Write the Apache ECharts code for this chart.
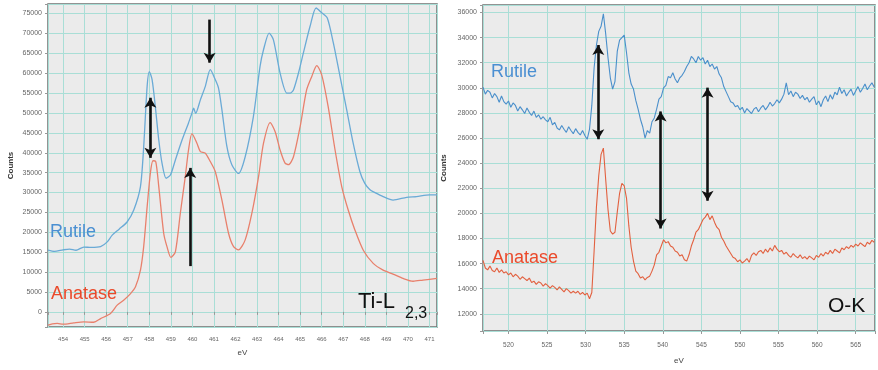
<!DOCTYPE html>
<html>
<head>
<meta charset="utf-8">
<script src="https://cdn.jsdelivr.net/npm/echarts@6/dist/echarts.min.js"></script>
<style>
  html, body { margin: 0; padding: 0; background: #ffffff; }
  #chart { width: 878px; height: 370px; }
</style>
</head>
<body>
<div id="chart"></div>
<script>
// ---- Ti-L2,3 edge (energy in eV, intensity in counts) ----
const tiRutileEnergy = [453.3, 453.6, 454.0, 454.3, 454.6, 454.96, 455.3, 455.74, 456.05, 456.28,
  456.6, 456.97, 457.28, 457.59, 457.74, 457.9, 458.0, 458.13, 458.28, 458.44,
  458.59, 458.78, 458.98, 459.21, 459.52, 459.82, 459.98, 460.06, 460.15, 460.37,
  460.6, 460.83, 461.06, 461.21, 461.37, 461.6, 461.83, 462.14, 462.45, 462.83,
  463.14, 463.3, 463.56, 463.76, 464.07, 464.38, 464.54, 464.69, 464.92, 465.15,
  465.46, 465.74, 466.0, 466.26, 466.54, 466.85, 467.16, 467.46, 467.77, 468.0,
  468.24, 468.47, 468.85, 469.31, 469.94, 470.4, 471.01, 471.35];
const tiRutile = [15500, 15200, 15600, 15800, 15500, 16300, 16200, 16400, 17600, 19300,
  20800, 22600, 25600, 31500, 41500, 56700, 60400, 58400, 51600, 43200,
  37400, 33600, 34400, 38200, 43200, 47500, 50000, 51200, 49900, 53300,
  56700, 60900, 58400, 56300, 50800, 41600, 37000, 34800, 39000, 49100,
  61700, 65900, 70100, 68400, 60000, 55000, 55000, 55800, 60000, 65100,
  71800, 76400, 75200, 73900, 67600, 59200, 50800, 42400, 35300, 32300,
  30700, 30000, 29000, 28100, 28800, 29000, 29400, 29400];

const tiAnataseEnergy = [453.3, 453.5, 453.73, 454.0, 454.5, 454.96, 455.42, 455.74, 456.2, 456.51,
  456.81, 457.13, 457.36, 457.59, 457.74, 457.9, 458.05, 458.17, 458.3, 458.44,
  458.67, 458.82, 459.0, 459.21, 459.44, 459.67, 459.82, 459.98, 460.21, 460.37,
  460.6, 460.83, 461.06, 461.37, 461.68, 461.91, 462.14, 462.45, 462.76, 463.07,
  463.3, 463.61, 463.84, 464.07, 464.3, 464.46, 464.69, 465.0, 465.3, 465.54,
  465.77, 466.0, 466.3, 466.62, 466.93, 467.23, 467.54, 467.93, 468.39, 468.85,
  469.31, 469.78, 470.24, 470.7, 471.35];
const tiAnatase = [-3350, -3000, -2900, -3100, -2750, -2500, -2600, -1700, -400, 1700,
  2950, 4600, 6300, 10500, 16400, 26400, 34900, 38000, 37800, 31500,
  19700, 16400, 13700, 15100, 24800, 34000, 40700, 44800, 42400, 40300,
  39900, 37800, 35300, 28100, 19700, 16400, 15600, 18100, 24800, 34000,
  42400, 47600, 45300, 40700, 37400, 37000, 39000, 46600, 55800, 59200,
  61900, 59600, 51600, 40700, 31500, 25600, 20600, 15500, 12200, 10500,
  9500, 8400, 7700, 8000, 8400];

// ---- O-K edge ----
const okEnergy = [516.7, 517.0, 517.3, 517.6, 517.9, 518.2, 518.5, 518.8, 519.1, 519.4,
  519.7, 520.0, 520.3, 520.6, 520.9, 521.2, 521.5, 521.8, 522.1, 522.4,
  522.7, 523.0, 523.3, 523.6, 523.9, 524.2, 524.5, 524.8, 525.1, 525.4,
  525.7, 526.0, 526.3, 526.6, 526.9, 527.2, 527.5, 527.8, 528.1, 528.4,
  528.7, 529.0, 529.3, 529.6, 529.9, 530.2, 530.5, 530.8, 531.1, 531.4,
  531.7, 532.0, 532.3, 532.6, 532.9, 533.2, 533.5, 533.8, 534.1, 534.4,
  534.7, 535.0, 535.3, 535.6, 535.9, 536.2, 536.5, 536.8, 537.1, 537.4,
  537.7, 538.0, 538.3, 538.6, 538.9, 539.2, 539.5, 539.8, 540.1, 540.4,
  540.7, 541.0, 541.3, 541.6, 541.9, 542.2, 542.5, 542.8, 543.1, 543.4,
  543.7, 544.0, 544.3, 544.6, 544.9, 545.2, 545.5, 545.8, 546.1, 546.4,
  546.7, 547.0, 547.3, 547.6, 547.9, 548.2, 548.5, 548.8, 549.1, 549.4,
  549.7, 550.0, 550.3, 550.6, 550.9, 551.2, 551.5, 551.8, 552.1, 552.4,
  552.7, 553.0, 553.3, 553.6, 553.9, 554.2, 554.5, 554.8, 555.1, 555.4,
  555.7, 556.0, 556.3, 556.6, 556.9, 557.2, 557.5, 557.8, 558.1, 558.4,
  558.7, 559.0, 559.3, 559.6, 559.9, 560.2, 560.5, 560.8, 561.1, 561.4,
  561.7, 562.0, 562.3, 562.6, 562.9, 563.2, 563.5, 563.8, 564.1, 564.4,
  564.7, 565.0, 565.3, 565.6, 565.9, 566.2, 566.5, 566.8, 567.1, 567.4];
const okRutile = [30050, 29500, 29800, 29650, 29200, 29550, 29300, 28850, 29350, 28900,
  28700, 28950, 28450, 28800, 28600, 28150, 28500, 28250, 27950, 28400,
  28050, 27800, 28150, 27650, 27850, 27500, 27700, 27450, 27300, 27650,
  27050, 27250, 26800, 26650, 27000, 26700, 26450, 26900, 26600, 26350,
  26750, 26450, 26250, 26600, 26200, 25900, 26700, 28600, 31600, 33400,
  34500, 34900, 35900, 34300, 32400, 30800, 29900, 30500, 32900, 33800,
  34000, 34200, 32800, 31200, 30300, 29900, 29000, 28300, 27500, 26900,
  26000, 26600, 26400, 27300, 27600, 28300, 29100, 29300, 30000, 30200,
  30900, 30800, 31200, 30700, 30400, 30800, 31000, 31300, 31700, 32000,
  32500, 32300, 32000, 32500, 32200, 32400, 31900, 32200, 31700, 31900,
  31500, 31700, 31100, 30800, 30100, 29700, 29300, 28900, 28800, 28500,
  28600, 28250, 28450, 28000, 28350, 28150, 27950, 28300, 28450, 28100,
  28400, 28600, 28250, 28500, 28850, 28550, 28750, 29050, 28800, 29100,
  29500, 30400, 29450, 29750, 29300, 29650, 29500, 29150, 29400, 29050,
  29250, 28850, 29100, 29300, 28650, 28950, 28500, 29050, 29350, 28900,
  29450, 29100, 29650, 29450, 30050, 29550, 29850, 29350, 29650, 29900,
  29400, 29750, 30100, 29650, 29950, 30300, 29850, 30150, 30400, 30050];
const okAnatase = [16250, 15650, 15500, 15800, 15450, 15350, 15650, 15300, 15500, 15250,
  15350, 15100, 15250, 14950, 15150, 15000, 14750, 14950, 14800, 14650,
  14850, 14500, 14600, 14350, 14550, 14450, 14200, 14400, 14250, 14050,
  14250, 14100, 13900, 14150, 13950, 13750, 14000, 13850, 13650, 13800,
  13650, 13800, 13550, 13700, 13500, 13650, 13200, 13700, 17000, 20500,
  23000, 24700, 25200, 22700, 20300, 18600, 18350, 18500, 20100, 21600,
  22400, 22200, 21200, 19000, 17300, 16200, 15400, 15200, 14850, 14950,
  14700, 14900, 15000, 15400, 15900, 16700, 16900, 17400, 17900, 17650,
  17750, 17400, 17300, 17000, 16900, 16600, 16700, 16300, 16200, 16700,
  17400, 17900, 18500, 18700, 19100, 19500, 19700, 20000, 19500, 19800,
  19300, 18900, 18700, 18100, 17800, 17400, 17100, 16800, 16500, 16400,
  16150, 16300, 16050, 16200, 16400, 16100, 16650, 16850, 16650, 16950,
  17050, 16800, 17150, 16900, 17250, 17000, 17450, 17150, 16950, 17050,
  16750, 16900, 16650, 16500, 16800, 16600, 16450, 16700, 16400, 16550,
  16350, 16600, 16450, 16300, 16650, 16500, 16800, 16600, 16900, 16750,
  17050, 16800, 17150, 17000, 16850, 17250, 17100, 17350, 17200, 17450,
  17300, 17550, 17400, 17650, 17500, 17350, 17700, 17550, 17850, 17700];

// Arrow annotations in data units: energy, counts at tail, counts at head, double-headed?
const tiArrowEnergy = [458.05, 460.8, 459.9];
const tiArrowFrom   = [53830, 73480, 11510];
const tiArrowTo     = [38720, 62650, 36200];
const tiArrowDouble = [true, false, false];
const okArrowEnergy = [531.64, 539.72, 545.8];
const okArrowFrom   = [33415, 28120, 30016];
const okArrowTo     = [25908, 18796, 21008];
const okArrowDouble = [true, true, true];

const pairs = (xs, ys) => xs.map((x, i) => [x, ys[i]]);

function arrowLines(xs, from, to, dbl) {
  return xs.map((x, i) => [
    { coord: [x, from[i]], symbol: dbl[i] ? 'arrow' : 'none' },
    { coord: [x, to[i]], symbol: 'arrow' }
  ]);
}

const FONT = '"Liberation Sans", Arial, Helvetica, sans-serif';
const GRID_LINE = '#a9ded6';

function xAxisFor(gridIndex, min, max, splitNumber, step, gap, labelSize, margin) {
  return {
    gridIndex, type: 'value', min, max, splitNumber,
    name: 'eV', nameLocation: 'middle', nameGap: gap,
    nameTextStyle: { fontSize: 8, color: '#444', fontFamily: FONT },
    axisLine: { show: false },
    axisTick: { show: true, length: 3, lineStyle: { color: '#999' } },
    axisLabel: {
      fontSize: labelSize, color: '#666', margin, fontFamily: FONT,
      formatter: v => (Math.abs(v / step - Math.round(v / step)) < 1e-6 ? String(Math.round(v)) : '')
    },
    splitLine: { show: true, lineStyle: { color: GRID_LINE, width: 1 } }
  };
}

function yAxisFor(gridIndex, min, max, splitNumber, step, gap) {
  return {
    gridIndex, type: 'value', min, max, splitNumber,
    name: 'Counts', nameLocation: 'middle', nameGap: gap, nameRotate: 90,
    nameTextStyle: { fontSize: 8, color: '#333', fontWeight: 'bold', fontFamily: FONT },
    axisLine: { show: false },
    axisTick: { show: true, length: 3, lineStyle: { color: '#999' } },
    axisLabel: {
      fontSize: 7, color: '#666', margin: 6, fontFamily: FONT,
      formatter: v => (Math.abs(v / step - Math.round(v / step)) < 1e-6 ? String(Math.round(v)) : '')
    },
    splitLine: { show: true, lineStyle: { color: GRID_LINE, width: 1 } }
  };
}

const arrowMark = (data) => ({
  silent: true, animation: false,
  symbolSize: [9, 10],
  label: { show: false },
  lineStyle: { color: '#111', width: 2.6, type: 'solid' },
  emphasis: { disabled: true },
  data
});

const chart = echarts.init(document.getElementById('chart'), null, { renderer: 'canvas' });

chart.setOption({
  animation: false,
  backgroundColor: '#ffffff',
  grid: [
    { left: 48, top: 4, width: 389, height: 323, show: true,
      backgroundColor: '#ebebeb', borderColor: '#707070', borderWidth: 1.5 },
    { left: 483, top: 5, width: 395, height: 328, show: true,
      backgroundColor: '#ebebeb', borderColor: '#707070', borderWidth: 1.5 }
  ],
  xAxis: [
    xAxisFor(0, 453.3, 471.35, 18, 1, 22, 6, 9),
    xAxisFor(1, 516.7, 567.5, 10, 5, 26, 6.5, 11)
  ],
  yAxis: [
    yAxisFor(0, -3800, 77400, 16, 5000, 33),
    yAxisFor(1, 10630, 36600, 13, 2000, 35)
  ],
  series: [
    { name: 'Rutile', type: 'line', xAxisIndex: 0, yAxisIndex: 0,
      data: pairs(tiRutileEnergy, tiRutile), showSymbol: false, smooth: 0.25,
      lineStyle: { color: '#6aaad6', width: 1.3 },
      markLine: arrowMark(arrowLines(tiArrowEnergy, tiArrowFrom, tiArrowTo, tiArrowDouble)) },
    { name: 'Anatase', type: 'line', xAxisIndex: 0, yAxisIndex: 0,
      data: pairs(tiAnataseEnergy, tiAnatase), showSymbol: false, smooth: 0.25,
      lineStyle: { color: '#e8806c', width: 1.3 } },
    { name: 'Rutile', type: 'line', xAxisIndex: 1, yAxisIndex: 1,
      data: pairs(okEnergy, okRutile), showSymbol: false,
      lineStyle: { color: '#4a8fcb', width: 1.1 },
      markLine: arrowMark(arrowLines(okArrowEnergy, okArrowFrom, okArrowTo, okArrowDouble)) },
    { name: 'Anatase', type: 'line', xAxisIndex: 1, yAxisIndex: 1,
      data: pairs(okEnergy, okAnatase), showSymbol: false,
      lineStyle: { color: '#e2603f', width: 1.1 } }
  ],
  graphic: [
    { type: 'text', x: 50, y: 232, z: 100, style: { text: 'Rutile', fill: '#4a8fd2', font: '18px ' + FONT, verticalAlign: 'middle' } },
    { type: 'text', x: 51, y: 294, z: 100, style: { text: 'Anatase', fill: '#ea4a2b', font: '18px ' + FONT, verticalAlign: 'middle' } },
    { type: 'text', x: 358, y: 302, z: 100, style: { text: 'Ti-L', fill: '#111', font: '22px ' + FONT, verticalAlign: 'middle' } },
    { type: 'text', x: 405, y: 314, z: 100, style: { text: '2,3', fill: '#111', font: '16px ' + FONT, verticalAlign: 'middle' } },
    { type: 'text', x: 491, y: 72, z: 100, style: { text: 'Rutile', fill: '#4a8fd2', font: '18px ' + FONT, verticalAlign: 'middle' } },
    { type: 'text', x: 492, y: 258, z: 100, style: { text: 'Anatase', fill: '#ea4a2b', font: '18px ' + FONT, verticalAlign: 'middle' } },
    { type: 'text', x: 828, y: 306, z: 100, style: { text: 'O-K', fill: '#111', font: '21px ' + FONT, verticalAlign: 'middle' } }
  ]
});
</script>
</body>
</html>
